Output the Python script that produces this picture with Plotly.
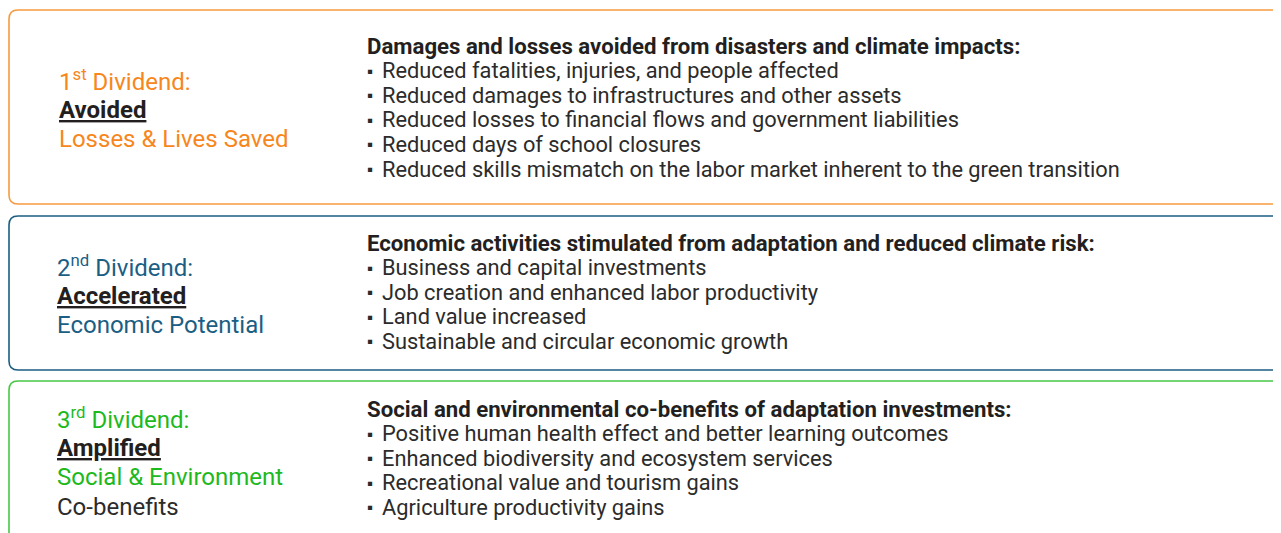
import plotly.graph_objects as go

W, H = 1281, 533
PAGE_OFF = 8  # default body margin of the html page

# ---- content ----
dividend_ordinals = ["1", "2", "3"]
dividend_sups = ["st", "nd", "rd"]
dividend_keywords = ["Avoided", "Accelerated", "Amplified"]
dividend_subtitles = [["Losses & Lives Saved"], ["Economic Potential"], ["Social & Environment", "Co-benefits"]]
headers = [
    "Damages and losses avoided from disasters and climate impacts:",
    "Economic activities stimulated from adaptation and reduced climate risk:",
    "Social and environmental co-benefits of adaptation investments:",
]
bullets_1 = [
    "Reduced fatalities, injuries, and people affected",
    "Reduced damages to infrastructures and other assets",
    "Reduced losses to financial flows and government liabilities",
    "Reduced days of school closures",
    "Reduced skills mismatch on the labor market inherent to the green transition",
]
bullets_2 = [
    "Business and capital investments",
    "Job creation and enhanced labor productivity",
    "Land value increased",
    "Sustainable and circular economic growth",
]
bullets_3 = [
    "Positive human health effect and better learning outcomes",
    "Enhanced biodiversity and ecosystem services",
    "Recreational value and tourism gains",
    "Agriculture productivity gains",
]
bullets = [bullets_1, bullets_2, bullets_3]

# ---- layout / style ----
text_colors = ["#F7861C", "#1B5E84", "#1DB91D"]
border_colors = ["#F89A3F", "#1B5E84", "#45C845"]
subtitle_colors = [[None], [None], [None, "#2b2b2b"]]
boxes = [(9, 10, 1300, 204), (9, 216, 1300, 370), (9, 381, 1300, 560)]
left_x = [57, 55, 55]
left_top = [80, 266, 418]
right_top = [46, 243, 409]
left_step = 29.5
right_step = 24.6
FONT = "Roboto"
DARK = "#231f20"
BODY = "#2b2b2b"


def rounded(x0, y0, x1, y1, r):
    return (f"M{x0+r},{y0} L{x1-r},{y0} Q{x1},{y0} {x1},{y0+r} L{x1},{y1-r} "
            f"Q{x1},{y1} {x1-r},{y1} L{x0+r},{y1} Q{x0},{y1} {x0},{y1-r} "
            f"L{x0},{y0+r} Q{x0},{y0} {x0+r},{y0} Z")


fig = go.Figure()
fig.add_trace(go.Scatter(x=[PAGE_OFF, W], y=[PAGE_OFF, H], mode="markers", marker=dict(opacity=0),
                         hoverinfo="skip", showlegend=False))

shapes = []
annotations = []
for i in range(3):
    x0, y0, x1, y1 = boxes[i]
    shapes.append(dict(type="path", path=rounded(x0, y0, x1, y1, 9), xref="x", yref="y",
                       line=dict(color=border_colors[i], width=1.6), fillcolor="white", layer="below"))
    lines = [
        (f"{dividend_ordinals[i]}<sup>{dividend_sups[i]}</sup> Dividend:", text_colors[i]),
        (f"<u><b>{dividend_keywords[i]}</b></u>", DARK),
    ]
    for j, s in enumerate(dividend_subtitles[i]):
        c = subtitle_colors[i][j] or text_colors[i]
        lines.append((s, c))
    for k, (t, c) in enumerate(lines):
        annotations.append(dict(x=left_x[i], y=left_top[i] + k * left_step, text=t, showarrow=False,
                                xanchor="left", yanchor="middle", xref="x", yref="y",
                                font=dict(family=FONT, size=24, color=c)))
    annotations.append(dict(x=365, y=right_top[i], text=f"<b>{headers[i]}</b>", showarrow=False,
                            xanchor="left", yanchor="middle", xref="x", yref="y",
                            font=dict(family=FONT, size=22.2, color=DARK)))
    for k, b in enumerate(bullets[i]):
        yy = right_top[i] + (k + 1) * right_step
        annotations.append(dict(x=365, y=yy, text="▪", showarrow=False, xanchor="left", yanchor="middle",
                                xref="x", yref="y", font=dict(family=FONT, size=17, color=BODY)))
        annotations.append(dict(x=380, y=yy, text=b, showarrow=False, xanchor="left", yanchor="middle",
                                xref="x", yref="y", font=dict(family=FONT, size=21.8, color=BODY)))

fig.update_layout(
    width=W - PAGE_OFF, height=H - PAGE_OFF, margin=dict(l=0, r=0, t=0, b=0),
    paper_bgcolor="white", plot_bgcolor="white",
    xaxis=dict(range=[PAGE_OFF, W], visible=False, fixedrange=True),
    yaxis=dict(range=[H, PAGE_OFF], visible=False, fixedrange=True),
    shapes=shapes, annotations=annotations, showlegend=False,
)
fig.write_html("out.html")
